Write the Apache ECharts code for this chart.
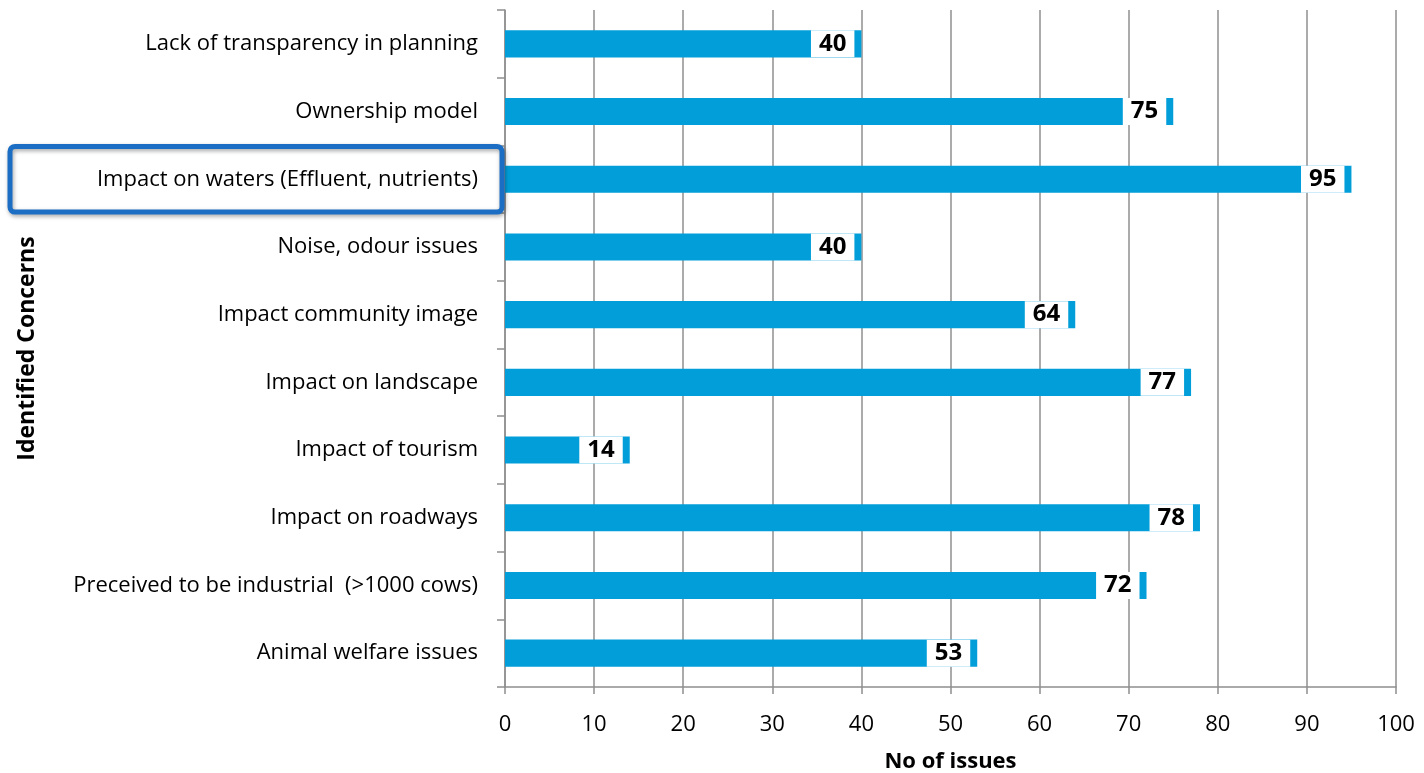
<!DOCTYPE html>
<html>
<head>
<meta charset="utf-8">
<script src="https://cdn.jsdelivr.net/npm/echarts@6/dist/echarts.min.js"></script>
<style>
  html, body { margin: 0; padding: 0; background: #fff; }
  #chart { width: 1424px; height: 773px; }
</style>
</head>
<body>
<div id="chart"></div>
<script>
// Concerns raised, top to bottom
const concerns = [
  'Lack of transparency in planning',
  'Ownership model',
  'Impact on waters (Effluent, nutrients)',
  'Noise, odour issues',
  'Impact community image',
  'Impact on landscape',
  'Impact of tourism',
  'Impact on roadways',
  'Preceived to be industrial  (>1000 cows)',
  'Animal welfare issues'
];
const issueCounts = [40, 75, 95, 40, 64, 77, 14, 78, 72, 53];
const highlighted = 'Impact on waters (Effluent, nutrients)';

const FONT = '"Open Sans", sans-serif';
const GRID_COLOR = '#8f8f8f';

const chart = echarts.init(document.getElementById('chart'));

const option = {
  animation: false,
  backgroundColor: '#ffffff',
  grid: { left: 505, right: 28, top: 10, bottom: 86, containLabel: false, outerBoundsMode: 'none' },
  xAxis: {
    type: 'value',
    min: 0, max: 100, interval: 10,
    name: 'No of issues',
    nameLocation: 'middle',
    nameGap: 64,
    nameTextStyle: { fontFamily: FONT, fontSize: 22, fontWeight: 'bold', color: '#000' },
    axisLine: { show: true, lineStyle: { color: GRID_COLOR, width: 1.5 } },
    axisTick: { show: true, length: 7, lineStyle: { color: GRID_COLOR, width: 1.5 } },
    axisLabel: { fontFamily: FONT, fontSize: 22, color: '#000', margin: 27 },
    splitLine: { show: true, lineStyle: { color: GRID_COLOR, width: 1.5 } }
  },
  yAxis: {
    type: 'category',
    data: concerns,
    inverse: true,
    name: 'Identified Concerns',
    nameLocation: 'middle',
    nameRotate: 90,
    nameGap: 466,
    nameTextStyle: { fontFamily: FONT, fontSize: 23, fontWeight: 'bold', color: '#000' },
    axisLine: { show: true, lineStyle: { color: GRID_COLOR, width: 1.5 } },
    axisTick: { show: true, length: 8, lineStyle: { color: GRID_COLOR, width: 1.5 } },
    axisLabel: { fontFamily: FONT, fontSize: 22, color: '#000', margin: 27 }
  },
  series: [{
    type: 'bar',
    data: issueCounts,
    barCategoryGap: '60%',
    itemStyle: { color: '#029ED9' },
    label: {
      show: true,
      position: 'insideRight',
      distance: 7,
      fontFamily: FONT,
      fontSize: 24,
      fontWeight: 'bold',
      color: '#000',
      backgroundColor: '#ffffff',
      lineHeight: 27,
      padding: [0, 8, 0, 8]
    }
  }]
};

chart.setOption(option);

// Outline the highlighted concern's label band
const idx = concerns.indexOf(highlighted);
const cy = chart.convertToPixel({ yAxisIndex: 0 }, idx);
const grid = chart.getModel().getComponent('grid').coordinateSystem.getRect();
const band = grid.height / concerns.length;
chart.setOption({
  graphic: [{
    type: 'rect',
    shape: { x: 10, y: cy - band / 2 + 1, width: grid.x - 13, height: band - 2, r: 5 },
    style: {
      fill: 'rgba(0,0,0,0)',
      stroke: '#1B6EC4',
      lineWidth: 5,
      shadowBlur: 4,
      shadowOffsetX: 1,
      shadowOffsetY: 2,
      shadowColor: 'rgba(0,0,0,0.35)'
    },
    z: 10
  }]
});
</script>
</body>
</html>
